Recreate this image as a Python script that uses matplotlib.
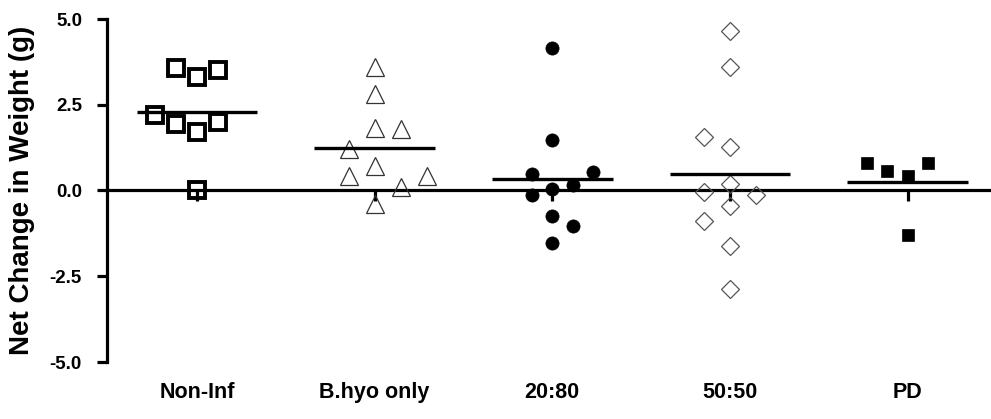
import numpy as np
import matplotlib
matplotlib.use("Agg")
import matplotlib.pyplot as plt

plt.rcParams['font.family'] = ['Liberation Sans', 'DejaVu Sans']
plt.rcParams['font.weight'] = 'bold'

# groups and measured weight changes (g), listed in placement order
groups = ['Non-Inf', 'B.hyo only', '20:80', '50:50', 'PD']
non_inf = [0.0, 1.70, 1.94, 1.99, 2.19, 3.31, 3.57, 3.50]
b_hyo = [3.60, 2.82, 1.82, 0.70, -0.38, 1.80, 1.20, 0.10, 0.41, 0.41]
mix_20_80 = [4.14, 1.47, 0.05, -0.73, -1.54, 0.16, 0.47, 0.54, -0.14, -1.04]
mix_50_50 = [4.66, 3.59, 1.28, 1.57, -0.45, -0.03, -0.13, 0.20, -0.90, -1.61, -2.87]
pd_group = [0.41, -1.29, 0.58, 0.80, 0.80]
y_ticks = [-5.0, -2.5, 0.0, 2.5, 5.0]

series = [non_inf, b_hyo, mix_20_80, mix_50_50, pd_group]

# marker styles per group
styles = [
    dict(marker='s', ms=11.5, mfc='none', mec='black', mew=2.8),
    dict(marker='^', ms=12.5, mfc='none', mec='#333333', mew=0.9),
    dict(marker='o', ms=9.5, mfc='black', mec='black', mew=0.5),
    dict(marker='D', ms=9.5, mfc='none', mec='#555555', mew=0.9),
    dict(marker='s', ms=9, mfc='black', mec='black', mew=0.5),
]
# swarm settings: slot width (x units), collision height (y units), side tried first
steps = [0.118, 0.146, 0.115, 0.146, 0.115]
heights = [0.55, 0.62, 0.5, 0.55, 0.5]
sides = [-1, 1, 1, -1, -1]


def swarm_offsets(values, step, height, side):
    """Greedy column layout: put each point in the nearest free slot."""
    order = [0]
    for k in range(1, 10):
        order += [side * k, -side * k]
    placed = []
    out = []
    for y in values:
        for s in order:
            if all(not (ps == s and abs(py - y) < height - 1e-9) for ps, py in placed):
                break
        placed.append((s, y))
        out.append(s * step)
    return np.array(out)


fig = plt.figure(figsize=(9.91, 4.19), dpi=100)
ax = fig.add_axes([107 / 991, 1 - 362 / 419, 1 - 107 / 991, (362 - 19) / 419])

for i, vals in enumerate(series):
    vals = np.array(vals)
    dx = swarm_offsets(vals, steps[i], heights[i], sides[i])
    ax.plot(i + dx, vals, ls='none', zorder=3, clip_on=False, **styles[i])
    ax.hlines(vals.mean(), i - 0.34, i + 0.34, color='black', lw=2.4, zorder=4)

ax.set_xlim(-0.507, 4.47)
ax.set_ylim(-5, 5)

ax.spines['top'].set_visible(False)
ax.spines['right'].set_visible(False)
ax.spines['left'].set_linewidth(2.3)
ax.spines['bottom'].set_linewidth(2.3)
ax.spines['bottom'].set_position(('data', 0))
ax.spines['bottom'].set_zorder(2)

ax.set_yticks(y_ticks)
ax.set_yticklabels([f'{t:.1f}' for t in y_ticks])
ax.tick_params(axis='y', direction='out', length=7, width=2.3, pad=11,
               labelsize=13.5)
ax.set_xticks(range(len(groups)))
ax.set_xticklabels(groups)
ax.tick_params(axis='x', direction='out', length=8, width=2.3, pad=130,
               labelsize=15.5)
for lab in ax.get_xticklabels() + ax.get_yticklabels():
    lab.set_fontweight('bold')

ax.set_ylabel('Net Change in Weight (g)', fontsize=20, fontweight='bold')
ax.yaxis.set_label_coords(-0.082, 0.5)

fig.savefig('out.png', dpi=100)
